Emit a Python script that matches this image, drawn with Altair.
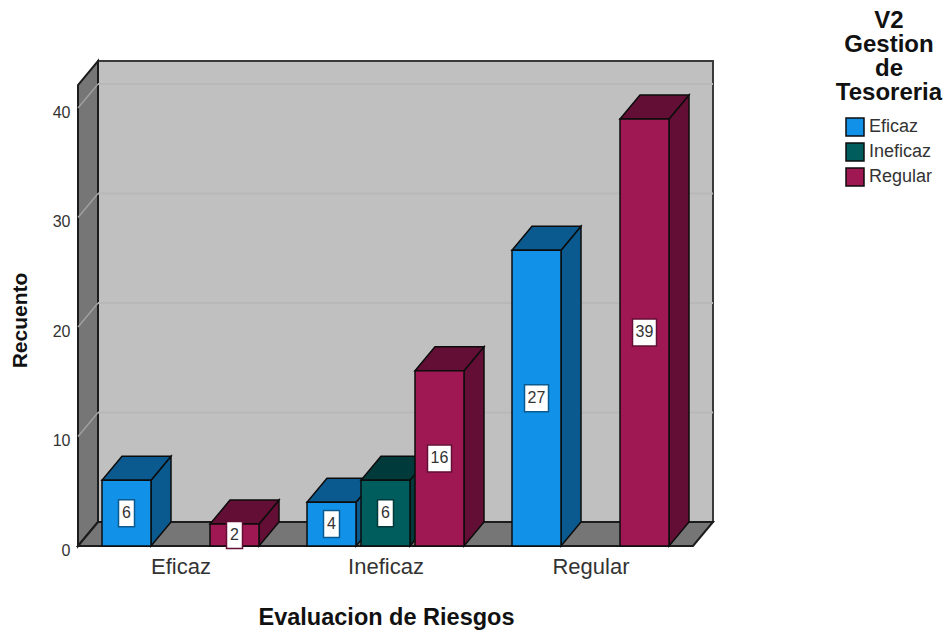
import altair as alt
import pandas as pd

# Counts by risk evaluation (categories) and treasury management (series)
categories = ["Eficaz", "Ineficaz", "Regular"]
series = ["Eficaz", "Ineficaz", "Regular"]
counts_eficaz = [6, 4, 27]
counts_ineficaz = [None, 6, None]
counts_regular = [2, 16, 39]
y_ticks = [0, 10, 20, 30, 40]

front_colors = ["#1192e8", "#005d5d", "#9f1853"]
shade_colors = ["#0a5a90", "#003a3a", "#630f35"]

FONT = "Liberation Sans"
EDGE = "#0c0c0c"

# Plot geometry: one category spans 205 px, one count spans 10.95 px
PLOT_W, PLOT_H = 635, 485
CAT_PX, COUNT_PX = 205.0, 10.95
DEPTH_X = 20 / CAT_PX
DEPTH_Y = 24 / COUNT_PX
X_MAX = PLOT_W / CAT_PX
Y_MAX = PLOT_H / COUNT_PX
FRONT_MAX = Y_MAX - DEPTH_Y
BAR_W = 49 / CAT_PX
BAR_STEP = 54 / CAT_PX
GROUP_LEFT = 24 / CAT_PX

x_scale = alt.Scale(domain=[0, X_MAX], nice=False, zero=False)
y_scale = alt.Scale(domain=[0, Y_MAX], nice=False, zero=False)


def X(field="x"):
    return alt.X(f"{field}:Q", scale=x_scale, axis=None, title=None)


def Y(field="y"):
    return alt.Y(f"{field}:Q", scale=y_scale, axis=None, title=None)


def side_face(x0, x1, y0_low, y0_high, y1_low, y1_high, fill, stroke=EDGE, width=1.5):
    """Parallelogram with vertical left and right edges."""
    rows = pd.DataFrame(
        {"x": [x0, x1], "y": [y0_low, y1_low], "y2": [y0_high, y1_high]}
    )
    return (
        alt.Chart(rows)
        .mark_area(fill=fill, stroke=stroke, strokeWidth=width, clip=False)
        .encode(x=X(), y=Y(), y2=alt.Y2("y2:Q"))
    )


def top_face(x0, x1, shift, y0, y1, fill, stroke=EDGE, width=1.5):
    """Parallelogram with horizontal top and bottom edges."""
    rows = pd.DataFrame(
        {"y": [y0, y1], "x": [x0, x0 + shift], "x2": [x1, x1 + shift]}
    )
    return (
        alt.Chart(rows)
        .mark_area(orient="horizontal", fill=fill, stroke=stroke, strokeWidth=width)
        .encode(y=Y(), x=X(), x2=alt.X2("x2:Q"))
    )


# Axes are carried by an invisible layer so every other layer can stay axis-free
label_expr = (
    "datum.value < 1 ? '" + categories[0] + "' : datum.value < 2 ? '"
    + categories[1] + "' : '" + categories[2] + "'"
)
axis_rows = pd.DataFrame({"x": [0.5, 1.5, 2.5], "y": [0, 0, 0]})
axes_layer = (
    alt.Chart(axis_rows)
    .mark_point(opacity=0)
    .encode(
        x=alt.X(
            "x:Q",
            scale=x_scale,
            axis=alt.Axis(
                title="Evaluacion de Riesgos",
                values=[0.5, 1.5, 2.5],
                labelExpr=label_expr,
                domain=False,
                ticks=False,
                grid=False,
                labelFontSize=22,
                labelColor="#333333",
                labelPadding=10,
                labelFlush=False,
                titleFontSize=23.5,
                titleFontWeight="bold",
                titleColor="#111111",
                titleX=308,
                titleY=71,
                titleBaseline="middle",
            ),
        ),
        y=alt.Y(
            "y:Q",
            scale=y_scale,
            axis=alt.Axis(
                title="Recuento",
                values=y_ticks,
                format="d",
                domain=False,
                ticks=False,
                grid=False,
                labelFontSize=16,
                labelColor="#333333",
                labelPadding=8,
                labelOffset=4,
                titleFontSize=21,
                titleFontWeight="bold",
                titleColor="#111111",
                titleX=-58,
                titleY=259,
                titleBaseline="middle",
            ),
        ),
    )
)

WALL_GREY = "#767676"
layers = [
    axes_layer,
    # Back wall, left wall and floor of the box
    side_face(DEPTH_X, X_MAX, DEPTH_Y, Y_MAX, DEPTH_Y, Y_MAX, "#c0c0c0", "#3a3a3a", 2),
    side_face(0, DEPTH_X, 0, FRONT_MAX, DEPTH_Y, Y_MAX, WALL_GREY, "#1c1c1c", 2),
    top_face(0, X_MAX - DEPTH_X, DEPTH_X, 0, DEPTH_Y, WALL_GREY, "#1c1c1c", 2),
]

# Gridlines along the back wall and across the left wall
grid_rows = pd.DataFrame({"v": [t for t in y_ticks if t > 0]})
grid_rows["back"] = grid_rows["v"] + DEPTH_Y
grid_rows["x0"] = DEPTH_X
grid_rows["x1"] = X_MAX
grid_rows["x_front"] = 0.0
layers.append(
    alt.Chart(grid_rows)
    .mark_rule(color="#b8b8b8", strokeWidth=2)
    .encode(x=X("x0"), x2=alt.X2("x1:Q"), y=Y("back"))
)
layers.append(
    alt.Chart(grid_rows)
    .mark_rule(color="#a0a0a0", strokeWidth=1.5)
    .encode(x=X("x_front"), x2=alt.X2("x0:Q"), y=Y("v"), y2=alt.Y2("back:Q"))
)

# One cuboid per non-empty count, drawn back to front in series order
color_scale = alt.Scale(domain=series, range=front_colors)
legend = alt.Legend(
    title=None,
    orient="none",
    legendX=767,
    legendY=56,
    symbolType="square",
    symbolSize=324,
    symbolStrokeColor=EDGE,
    symbolStrokeWidth=1.5,
    symbolOpacity=1,
    labelFontSize=18,
    labelColor="#333333",
    labelOffset=4,
    rowPadding=1,
    padding=0,
)

all_counts = [counts_eficaz, counts_ineficaz, counts_regular]
labels = []
for c, _category in enumerate(categories):
    for s, name in enumerate(series):
        value = all_counts[s][c]
        if value is None:
            continue
        x0 = c + GROUP_LEFT + s * BAR_STEP
        x1 = x0 + BAR_W
        layers.append(
            side_face(x1, x1 + DEPTH_X, 0, value, DEPTH_Y, value + DEPTH_Y, shade_colors[s])
        )
        layers.append(top_face(x0, x1, DEPTH_X, value, value + DEPTH_Y, shade_colors[s]))
        front = pd.DataFrame(
            {"x": [x0], "x2": [x1], "y": [0], "y2": [value], "series": [name]}
        )
        layers.append(
            alt.Chart(front)
            .mark_rect(stroke=EDGE, strokeWidth=1.5, opacity=1)
            .encode(
                x=X(),
                x2=alt.X2("x2:Q"),
                y=Y(),
                y2=alt.Y2("y2:Q"),
                color=alt.Color("series:N", scale=color_scale, legend=legend),
            )
        )
        tag = pd.DataFrame(
            {"x": [(x0 + x1) / 2], "y": [value / 2], "value": [value]}
        )
        labels.append(
            alt.Chart(tag)
            .mark_rect(
                width=16 if value < 10 else 24,
                height=27,
                fill="white",
                stroke=shade_colors[s],
                strokeWidth=1.5,
            )
            .encode(x=X(), y=Y())
        )
        labels.append(
            alt.Chart(tag)
            .mark_text(fontSize=16, color="#333333", font=FONT)
            .encode(x=X(), y=Y(), text="value:Q")
        )

chart = (
    alt.layer(*layers, *labels)
    .resolve_scale(color="shared")
    .resolve_axis(x="independent", y="independent")
    .properties(
        width=PLOT_W,
        height=PLOT_H,
        padding={"left": 78, "top": 61, "right": 231, "bottom": 85},
        autosize=alt.AutoSizeParams(type="none"),
        title=alt.TitleParams(
            text=["V2", "Gestion", "de", "Tesoreria"],
            anchor="start",
            align="center",
            frame="group",
            dx=811,
            offset=-48,
            fontSize=24,
            fontWeight="bold",
            lineHeight=24,
            color="#111111",
            font=FONT,
        ),
    )
    .configure(font=FONT, background="white")
    .configure_view(stroke=None)
)

chart.save("out.html", embed_options={"renderer": "svg", "actions": False})
